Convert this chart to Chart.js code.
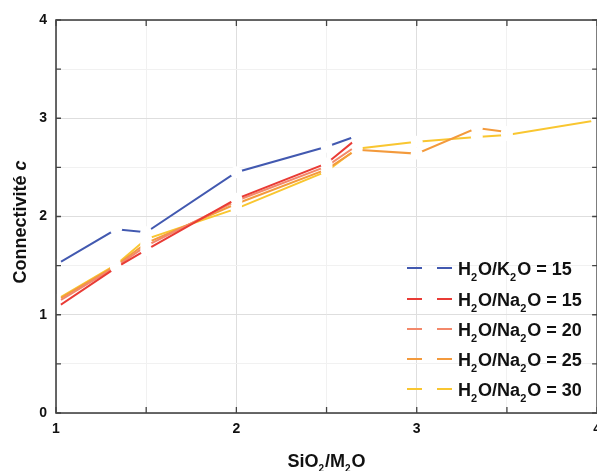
<!DOCTYPE html>
<html>
<head>
<meta charset="utf-8">
<script src="https://cdn.jsdelivr.net/npm/chart.js@4"></script>
<style>
  html, body { margin: 0; padding: 0; background: #fff; overflow: hidden; }
  #wrap { width: 609px; height: 471px; }
</style>
</head>
<body>
<div id="wrap"><canvas id="chartConnect"></canvas></div>
<script>
// SiO2/M2O ratios
const ratios = [1, 1.333, 1.5, 2, 2.5, 2.667, 3, 3.333, 3.5, 4];

// connectivite values per series
const k2o15 = [1.51, 1.87, 1.84, 2.45, 2.71, 2.82];
const na2o15 = [1.07, 1.48, 1.66, 2.18, 2.54, 2.79];
const na2o20 = [1.12, 1.49, 1.70, 2.16, 2.51, 2.72];
const na2o25 = [1.14, 1.50, 1.73, 2.13, 2.48, 2.68, 2.64, 2.90, 2.86];
const na2o30 = [1.15, 1.51, 1.77, 2.08, 2.46, 2.69, 2.76, 2.81, 2.83, 2.98];

const xTicks = [1, 2, 3, 4];
const yTicks = [0, 1, 2, 3, 4];

// legend parts: [text, isSubscript]
const legendLabels = [
  [["H", 0], ["2", 1], ["O/K", 0], ["2", 1], ["O = 15", 0]],
  [["H", 0], ["2", 1], ["O/Na", 0], ["2", 1], ["O = 15", 0]],
  [["H", 0], ["2", 1], ["O/Na", 0], ["2", 1], ["O = 20", 0]],
  [["H", 0], ["2", 1], ["O/Na", 0], ["2", 1], ["O = 25", 0]],
  [["H", 0], ["2", 1], ["O/Na", 0], ["2", 1], ["O = 30", 0]],
];
const colors = ["#4259b0", "#e93b35", "#f3886a", "#f39a3c", "#f9c630"];

function toPoints(values) {
  return values.map((v, i) => ({ x: ratios[i], y: v }));
}

function MakeDataset(label, values, color) {
  return {
    label,
    data: toPoints(values),
    borderColor: color,
    backgroundColor: color,
    borderWidth: 2,
    pointRadius: 6,
    pointHoverRadius: 6,
    pointBorderWidth: 0,
    pointBackgroundColor: "#ffffff",
    tension: 0,
    fill: false,
  };
}

const FONT = "'Liberation Sans', Arial, sans-serif";

function drawParts(ctx, parts, x, y, size, subSize, subOffset) {
  let cx = x;
  parts.forEach(([t, sub]) => {
    ctx.font = `bold ${sub ? subSize : size}px ${FONT}`;
    ctx.fillText(t, cx, sub ? y + subOffset : y);
    cx += ctx.measureText(t).width + (sub ? 1 : 0);
  });
  return cx - x;
}

function measureParts(ctx, parts, size, subSize) {
  let w = 0;
  parts.forEach(([t, sub]) => {
    ctx.font = `bold ${sub ? subSize : size}px ${FONT}`;
    w += ctx.measureText(t).width + (sub ? 1 : 0);
  });
  return w;
}

const framePlugin = {
  id: "frame",
  afterDatasetsDraw(chart) {
    const { ctx, chartArea } = chart;
    const xs = chart.scales.x;
    const ys = chart.scales.y;
    ctx.save();
    ctx.strokeStyle = "#444444";
    ctx.lineWidth = 1.6;
    ctx.strokeRect(chartArea.left, chartArea.top, chartArea.right - chartArea.left, chartArea.bottom - chartArea.top);
    ctx.lineWidth = 1.3;
    ctx.beginPath();
    for (let v = 0; v <= 4; v += 0.5) {
      const py = ys.getPixelForValue(v);
      ctx.moveTo(chartArea.left, py); ctx.lineTo(chartArea.left + 5, py);
      ctx.moveTo(chartArea.right, py); ctx.lineTo(chartArea.right - 5, py);
    }
    for (let v = 1; v <= 4; v += 0.5) {
      const px = xs.getPixelForValue(v);
      ctx.moveTo(px, chartArea.bottom); ctx.lineTo(px, chartArea.bottom - 6);
      ctx.moveTo(px, chartArea.top); ctx.lineTo(px, chartArea.top + 6);
    }
    ctx.stroke();
    ctx.restore();
  },
  afterDraw(chart) {
    const { ctx, chartArea } = chart;
    ctx.save();
    ctx.fillStyle = "#111111";
    ctx.textBaseline = "alphabetic";
    ctx.textAlign = "left";

    // x title
    const xParts = [["SiO", 0], ["2", 1], ["/M", 0], ["2", 1], ["O", 0]];
    const xw = measureParts(ctx, xParts, 18, 10);
    drawParts(ctx, xParts, (chartArea.left + chartArea.right) / 2 - xw / 2, 467, 18, 10, 5);

    // y title
    ctx.save();
    ctx.translate(26, 222);
    ctx.rotate(-Math.PI / 2);
    ctx.font = `bold 18px ${FONT}`;
    const main = "Connectivité ";
    const w1 = ctx.measureText(main).width;
    ctx.font = `italic bold 18px ${FONT}`;
    const w2 = ctx.measureText("c").width;
    const sx = -(w1 + w2) / 2;
    ctx.font = `bold 18px ${FONT}`;
    ctx.fillText(main, sx, 0);
    ctx.font = `italic bold 18px ${FONT}`;
    ctx.fillText("c", sx + w1, 0);
    ctx.restore();

    // legend
    const rowY = [268, 299, 329, 359, 389];
    legendLabels.forEach((parts, i) => {
      const y = rowY[i];
      ctx.strokeStyle = colors[i];
      ctx.lineWidth = 2;
      ctx.setLineDash([15, 15]);
      ctx.beginPath();
      ctx.moveTo(407, y);
      ctx.lineTo(452, y);
      ctx.stroke();
      ctx.setLineDash([]);
      ctx.fillStyle = "#111111";
      ctx.textBaseline = "alphabetic";
      drawParts(ctx, parts, 458, y + 6.5, 18, 11, 6);
    });
    ctx.restore();
  }
};

const ctx = document.getElementById("chartConnect").getContext("2d");

new Chart(ctx, {
  type: "line",
  data: {
    datasets: [
      MakeDataset("H2O/K2O = 15", k2o15, colors[0]),
      MakeDataset("H2O/Na2O = 15", na2o15, colors[1]),
      MakeDataset("H2O/Na2O = 20", na2o20, colors[2]),
      MakeDataset("H2O/Na2O = 25", na2o25, colors[3]),
      MakeDataset("H2O/Na2O = 30", na2o30, colors[4]),
    ],
  },
  options: {
    responsive: true,
    maintainAspectRatio: false,
    animation: false,
    layout: { padding: { top: 20, left: 0, right: 0, bottom: 0 } },
    plugins: {
      legend: { display: false },
      tooltip: { enabled: false },
    },
    scales: {
      x: {
        type: "linear",
        min: 1,
        max: 4,
        afterFit(scale) { scale.height = 58; },
        border: { display: false },
        grid: {
          drawTicks: false,
          color: (c) => (c.tick && c.tick.value % 1 === 0 ? "#dedede" : "#f1f1f1"),
          lineWidth: 1,
        },
        ticks: {
          stepSize: 0.5,
          padding: 8,
          color: "#111111",
          font: { size: 14, weight: "bold", family: FONT },
          callback: (v) => (xTicks.includes(v) ? String(v) : ""),
          maxRotation: 0,
        },
      },
      y: {
        min: 0,
        max: 4,
        afterFit(scale) { scale.width = 56; },
        border: { display: false },
        grid: {
          drawTicks: false,
          color: (c) => (c.tick && c.tick.value % 1 === 0 ? "#dedede" : "#f1f1f1"),
          lineWidth: 1,
        },
        ticks: {
          stepSize: 0.5,
          padding: 9,
          color: "#111111",
          font: { size: 14, weight: "bold", family: FONT },
          callback: (v) => (yTicks.includes(v) ? String(v) : ""),
        },
      },
    },
  },
  plugins: [framePlugin],
});
</script>
</body>
</html>
